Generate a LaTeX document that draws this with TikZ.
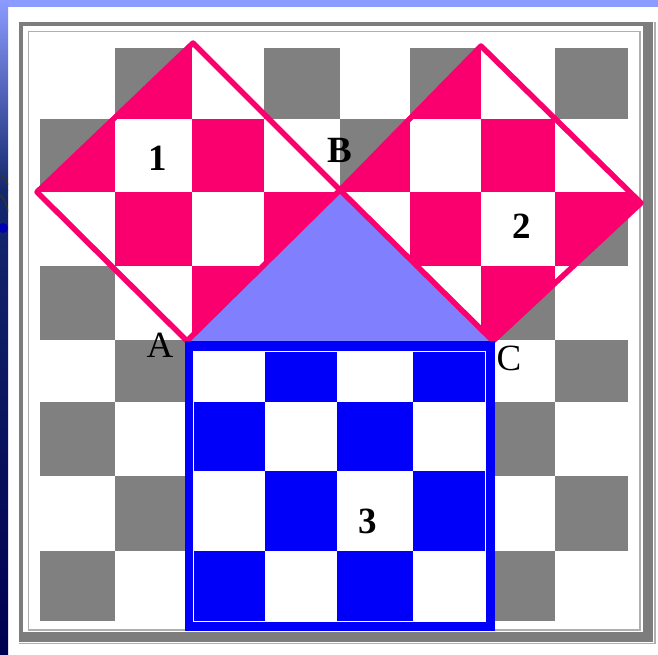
\documentclass[tikz,border=0pt]{standalone}
\usepackage{fontspec}
\setmainfont{Liberation Serif}
\definecolor{pinkc}{RGB}{250,0,110}
\definecolor{grayc}{RGB}{128,128,128}
\definecolor{bluec}{RGB}{0,0,250}
\definecolor{lav}{RGB}{128,128,255}
\definecolor{topband}{RGB}{140,155,255}
\definecolor{stripmid}{RGB}{20,40,110}
\definecolor{stripdark}{RGB}{0,0,45}
\definecolor{stripbot}{RGB}{0,0,80}
\definecolor{framedark}{RGB}{125,125,125}
\definecolor{framelight}{RGB}{175,175,175}
\newcommand\oddcells[5]{%
  \foreach \c/\xa/\xb in {0/#2/115,1/115/192,2/192/264,3/264/340,4/340/410,5/410/481,6/481/555,7/555/#3}{%
    \foreach \r/\ya/\yb in {0/#4/119,1/119/192,2/192/266,3/266/340,4/340/402,5/402/476,6/476/551,7/551/#5}{%
      \pgfmathtruncatemacro\pp{mod(\c+\r,2)}%
      \ifnum\pp=1 \fill[#1] (\xa,\ya) rectangle (\xb,\yb);\fi
    }}}
\tikzset{
  lblbold/.style={inner sep=0pt, font=\bfseries\fontsize{37}{37}\selectfont},
  lblreg/.style={inner sep=0pt, font=\fontsize{37}{37}\selectfont},
  diaborder/.style={draw=pinkc, line width=5.5pt, line join=round},
}
\begin{document}
\begin{tikzpicture}[x=1pt,y=-1pt]
\useasboundingbox (0,0) rectangle (658,654);
% slide background
\fill[white] (0,0) rectangle (658,654);
\fill[topband] (0,0) rectangle (658,7);
\shade[top color=topband, bottom color=stripmid] (0,0) rectangle (8,190);
\shade[top color=stripmid, middle color=stripdark, bottom color=stripbot] (0,190) rectangle (8,654.5);
\begin{scope}
  \clip (0,0) rectangle (8,654);
  \draw[black!80, line width=1.5pt] (0,175) .. controls (5,178) .. (8,185);
  \draw[black!80, line width=1.5pt] (0,195) .. controls (5,200) .. (8,212);
  \fill[blue!70!black] (3,228) circle (5);
\end{scope}
% frame
\fill[framedark] (19,22) rectangle (653,642);
\fill[white] (23,26) rectangle (643,632);
\draw[framelight, line width=1.5pt] (28.5,31.5) rectangle (640,630);
\draw[framelight, line width=1.5pt] (19,643.5) -- (655,643.5) -- (655,22);
% chessboard
\oddcells{grayc}{40}{628}{48}{621}
% triangle
\coordinate (A) at (187,341);
\coordinate (B) at (340,190);
\coordinate (C) at (493,341);
\coordinate (T1) at (193,43);
\coordinate (L1) at (37,192);
\coordinate (T2) at (481,46);
\coordinate (R2) at (641,203);
\fill[lav] (A) -- (B) -- (C) -- cycle;
% square 1
\begin{scope}
  \clip (T1) -- (B) -- (A) -- (L1) -- cycle;
  \fill[white] (0,0) rectangle (658,654);
  \oddcells{pinkc}{20}{650}{30}{640}
\end{scope}
% square 2
\begin{scope}
  \clip (T2) -- (R2) -- (C) -- (B) -- cycle;
  \fill[white] (0,0) rectangle (658,654);
  \oddcells{pinkc}{20}{650}{30}{640}
\end{scope}
\draw[diaborder] (T1) -- (B) -- (A) -- (L1) -- cycle;
\draw[diaborder] (T2) -- (R2) -- (C) -- (B) -- cycle;
% square 3
\fill[bluec] (185,341) rectangle (495,631);
\fill[white] (193,351) rectangle (485,621);
\begin{scope}
  \clip (193,351) rectangle (485,621);
  \foreach \c/\xa/\xb in {0/193/265,1/265/337,2/337/413,3/413/485}{%
    \foreach \r/\ya/\yb in {0/351/402,1/402/471,2/471/551,3/551/621}{%
      \pgfmathtruncatemacro\pp{mod(\c+\r,2)}%
      \ifnum\pp=1 \fill[bluec] (\xa,\ya) rectangle (\xb,\yb);\fi
    }}
\end{scope}
\draw[white, line width=0.8pt] (193,351) rectangle (485,621);
% labels
\node[lblbold] (n1) at (158,158) {1};
\node[lblbold] (n2) at (522,226) {2};
\node[lblbold] (n3) at (368,521) {3};
\node[lblbold] (nB) at (340,150) {B};
\node[lblreg] (nA) at (160,345) {A};
\node[lblreg] (nC) at (509,358) {C};
\end{tikzpicture}
\end{document}
